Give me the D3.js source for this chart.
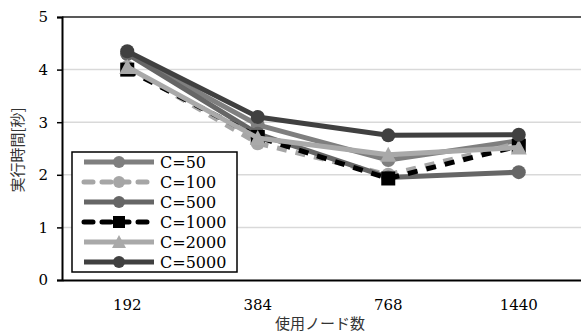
<!DOCTYPE html>
<html><head><meta charset="utf-8">
<script src="https://cdn.jsdelivr.net/npm/d3@7"></script>
<style>body{margin:0;background:#fff}svg{display:block}.serif{font-family:"DejaVu Serif","Liberation Serif",serif}</style>
</head><body>
<svg id="c" width="581" height="333"></svg>
<script>
const categories = ["192","384","768","1440"];
const seriesNames = ["C=50","C=100","C=500","C=1000","C=2000","C=5000"];
const c50   = [4.30, 2.95, 2.28, 2.65];
const c100  = [4.05, 2.60, 2.00, 2.60];
const c500  = [4.30, 2.78, 1.95, 2.05];
const c1000 = [4.00, 2.72, 1.93, 2.55];
const c2000 = [4.05, 2.70, 2.38, 2.52];
const c5000 = [4.35, 3.10, 2.75, 2.76];
const yTicks = [0,1,2,3,4,5];

const styles = [
  {color:"#7f7f7f", dash:null, marker:"circle"},
  {color:"#a6a6a6", dash:"10,9", marker:"circle"},
  {color:"#666666", dash:null, marker:"circle"},
  {color:"#000000", dash:"10,9", marker:"square"},
  {color:"#a9a9a9", dash:null, marker:"triangle"},
  {color:"#404040", dash:null, marker:"circle"}
];
const data = [c50,c100,c500,c1000,c2000,c5000];

const svg = d3.select("#c");
const x = d3.scaleBand().domain(categories).range([62,584]);
const y = d3.scaleLinear().domain([0,5]).range([280,17]);

svg.append("g").selectAll("line").data(yTicks.filter(d=>d>0&&d<5)).join("line")
  .attr("x1",62).attr("x2",581).attr("y1",d=>y(d)).attr("y2",d=>y(d))
  .attr("stroke","#d9d9d9").attr("stroke-width",1.5);
svg.append("line").attr("x1",62).attr("x2",581).attr("y1",y(5)).attr("y2",y(5))
  .attr("stroke","#222").attr("stroke-width",1.5);

const ya = svg.append("g").attr("transform","translate(62,0)")
  .call(d3.axisLeft(y).tickValues(yTicks).tickSize(5).tickPadding(9).tickFormat(d3.format("d")));
ya.select(".domain").attr("stroke","#000").attr("stroke-width",2);
ya.selectAll(".tick line").attr("stroke","#000").attr("stroke-width",1.5);
ya.selectAll("text").attr("class","serif").attr("font-size",15).attr("fill","#000").attr("font-family",null);

const xa = svg.append("g").attr("transform","translate(0,280)")
  .call(d3.axisBottom(x).tickSize(0).tickPadding(19));
xa.select(".domain").attr("stroke","#000").attr("stroke-width",2);
xa.selectAll("text").attr("class","serif").attr("font-size",15).attr("fill","#000");
ya.attr("font-family",null); xa.attr("font-family",null);

const cx = c => x(c) + x.bandwidth()/2;
function marker(g, type, px, py, color, size){
  if(type==="circle") g.append("circle").attr("cx",px).attr("cy",py).attr("r",size).attr("fill",color);
  else if(type==="square") g.append("rect").attr("x",px-size).attr("y",py-size).attr("width",size*2).attr("height",size*2).attr("fill",color);
  else g.append("path").attr("d",`M${px},${py-size-1}L${px+size+1},${py+size}L${px-size-1},${py+size}Z`).attr("fill",color);
}
const line = d3.line().x((d,i)=>cx(categories[i])).y(d=>y(d));
data.forEach((vals,si)=>{
  const s = styles[si];
  const g = svg.append("g");
  g.append("path").attr("d",line(vals)).attr("fill","none").attr("stroke",s.color)
    .attr("stroke-width",5).attr("stroke-dasharray",s.dash).attr("stroke-linejoin","round");
  vals.forEach((v,i)=>marker(g,s.marker,cx(categories[i]),y(v),s.color,7));
});

const lg = svg.append("g");
lg.append("rect").attr("x",72).attr("y",152).attr("width",165).attr("height",120)
  .attr("fill","#fff").attr("stroke","#000").attr("stroke-width",1.5);
seriesNames.forEach((n,i)=>{
  const s = styles[i];
  const ly = 162 + i*20;
  lg.append("line").attr("x1",84).attr("x2",154).attr("y1",ly).attr("y2",ly)
    .attr("stroke",s.color).attr("stroke-width",5).attr("stroke-dasharray",s.dash ? "9,9":null)
    .attr("stroke-linecap",s.dash?"round":"butt");
  marker(lg,s.marker,119,ly,s.color,6);
  lg.append("text").attr("x",160).attr("y",ly+6).text(n).attr("class","serif")
    .attr("font-size",16).attr("fill","#000");
});

svg.append("text").attr("transform","translate(23,150) rotate(-90)").attr("text-anchor","middle")
  .style("font-family","'Noto Sans CJK JP',sans-serif").attr("font-size",15).attr("fill","#333").text("実行時間[秒]");
svg.append("text").attr("x",320).attr("y",329).attr("text-anchor","middle")
  .style("font-family","'Noto Sans CJK JP',sans-serif").attr("font-size",15).attr("fill","#333").text("使用ノード数");
</script>
</body></html>
